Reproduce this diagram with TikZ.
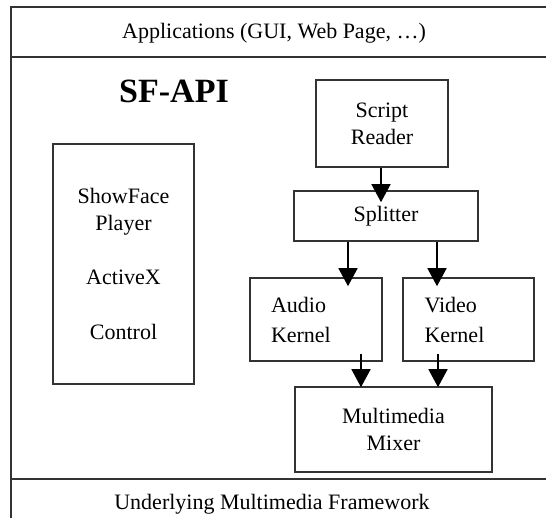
\documentclass[tikz,border=0pt]{standalone}
\usepackage{fontspec}
\setmainfont{Liberation Serif}
\usetikzlibrary{arrows.meta}
\begin{document}
\begin{tikzpicture}[x=1pt,y=-1pt,
  ln/.style={draw=black!80,line width=1.6pt},
  box/.style={ln,inner sep=0pt,align=center,font=\fontsize{22}{27}\selectfont},
  txt/.style={inner sep=0pt,font=\fontsize{22}{27}\selectfont},
  arr/.style={draw=black,line width=1.6pt,-{Triangle[width=19pt,length=18pt]}}]
\useasboundingbox (0,0) rectangle (546,518);
\fill[white] (0,0) rectangle (546,518);
% frame
\coordinate (ftl) at (11,7);
\coordinate (ftr) at (546,7);
\coordinate (fbl) at (11,518);
\coordinate (s1l) at (11,57);
\coordinate (s1r) at (546,57);
\coordinate (s2l) at (11,479);
\coordinate (s2r) at (546,479);
\draw[ln] (ftr) -- (ftl) -- (fbl);
\draw[ln] (s1l) -- (s1r);
\draw[ln] (s2l) -- (s2r);
\node[txt] (app) at (274,33) {Applications (GUI, Web Page, \dots)};
\node[txt] (umf) at (272,504) {Underlying Multimedia Framework};
\node[inner sep=0pt,font=\fontsize{34}{38}\selectfont\bfseries] (api) at (174,91) {SF-API};
% ShowFace box
\node[box,minimum width=141pt,minimum height=240pt] (sfp) at (123.5,264)
  {ShowFace\\Player\\[27pt]ActiveX\\[28pt]Control};
% right boxes
\node[box,minimum width=132pt,minimum height=87pt] (sr) at (382,123.5) {Script\\Reader};
\node[box,minimum width=184pt,minimum height=50pt] (sp) at (386,216) {Splitter};
\node[box,minimum width=132pt,minimum height=83pt,text width=90pt,align=left] (ak) at (316,319.5) {Audio\\[3pt]Kernel};
\node[box,minimum width=131pt,minimum height=83pt,text width=88pt,align=left] (vk) at (468.5,319.5) {Video\\[3pt]Kernel};
\node[box,minimum width=197pt,minimum height=85pt] (mx) at (393.5,429.5) {Multimedia\\Mixer};
% arrows
\draw[arr] ([xshift=-1pt]sr.south) -- ([xshift=-5pt,yshift=-12pt]sp.north);
\draw[arr] ([xshift=-38pt]sp.south) -- ([xshift=32pt,yshift=-9pt]ak.north);
\draw[arr] ([xshift=51pt]sp.south) -- ([xshift=-31.5pt,yshift=-9pt]vk.north);
\draw[arr] ([xshift=45pt,yshift=8pt]ak.south) -- ([xshift=-32.5pt,yshift=-1pt]mx.north);
\draw[arr] ([xshift=-30.5pt,yshift=8pt]vk.south) -- ([xshift=44.5pt,yshift=-1pt]mx.north);
\end{tikzpicture}
\end{document}
